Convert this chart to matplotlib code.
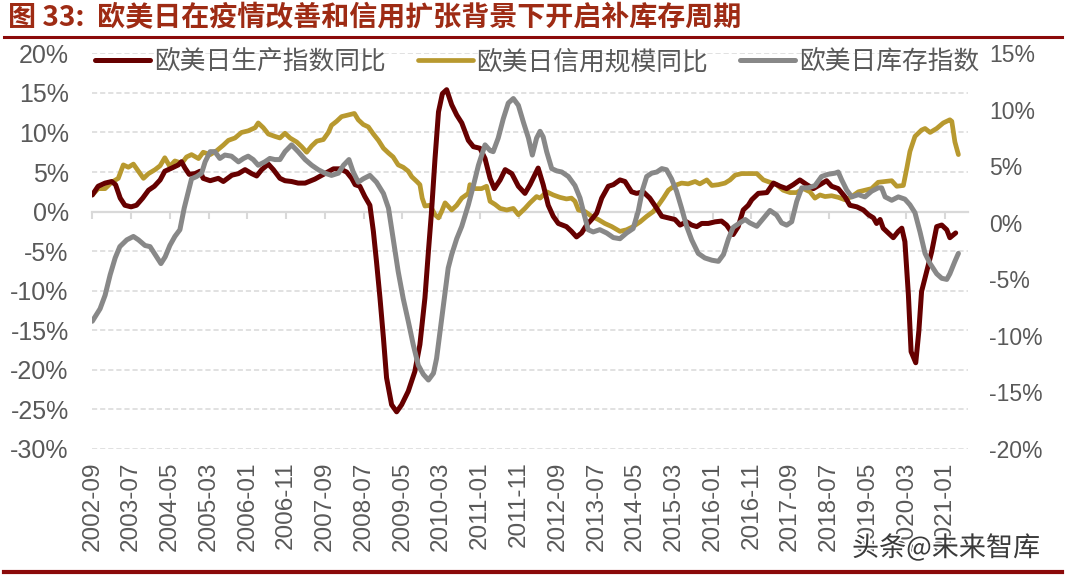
import matplotlib
matplotlib.use("Agg")
import matplotlib.pyplot as plt
from matplotlib.lines import Line2D
import matplotlib.patheffects as pe

# ---------------- data (x = months since 2002-09) ----------------
prod_m = [0, 1.5, 3.3, 5, 6, 7.2, 8.4, 10, 11.4, 13, 14.5, 16, 17.5, 18.7, 20.5, 22.2, 23, 23.9, 25, 26.5,
          27.8, 28.6, 30.4, 32.5, 33.8, 36, 37.7, 39.4, 41.1, 42.4, 43.7, 45.4, 46.7, 48.4, 49.7, 51.4, 53.1,
          54.9, 57.4, 60, 62.2, 63.9, 65.6, 66.9, 67.8, 69, 70.3, 71.6, 72.5, 73.3, 74.2, 75.1, 75.9, 77.2,
          78.5, 79.8, 81.5, 83.2, 84.5, 85.8, 86.7, 87.5, 88.4, 89.3, 90.3, 91.4, 92.7, 94, 95.3, 97, 98.3,
          100, 101.3, 102.6, 103.7, 105.2, 106.5, 108.2, 109.9, 111.6, 112.9, 115, 116.3, 117.6, 118.9, 120.2,
          122.3, 123.6, 124.9, 126.2, 127.5, 128.8, 130.1, 131.4, 133.1, 134.4, 136.1, 137.4, 139.1, 140.4,
          142.1, 143.8, 145.6, 146.9, 148.6, 150.3, 151.6, 153.3, 154.6, 155.9, 157.2, 158.9, 160.6, 162.3,
          163.6, 165.3, 166.6, 167.9, 169.2, 170.1, 171.8, 174, 175.7, 177.4, 179.1, 180.8, 182.5, 184.3, 186,
          187.7, 189.4, 190.7, 192.4, 194.1, 195.4, 197.2, 198.9, 200.2, 201.5, 202.3, 203.2, 204, 205.3,
          206.6, 207.9, 208.8, 209.6, 210.5, 211.2, 212.4, 213.2, 213.9, 215.2, 216.5, 217.8, 219.1, 220.4,
          221.2, 222.7]
prod_v = [2.1, 3.2, 3.6, 3.8, 3.4, 1.7, 0.8, 0.6, 0.8, 1.7, 2.7, 3.2, 4.0, 5.1, 5.5, 5.9, 6.3, 5.5, 4.7, 4.8,
          5.1, 4.2, 3.9, 4.2, 3.8, 4.6, 4.8, 5.3, 4.8, 4.5, 5.3, 6.0, 5.3, 4.2, 3.9, 3.8, 3.6,
          3.6, 4.1, 4.8, 5.4, 5.4, 5.0, 4.2, 3.4, 3.2, 1.9, 0.8, -2.5, -6.3, -10.9, -16.0, -21.0, -24.4,
          -25.3, -24.4, -22.7, -20.2, -16.8, -10.9, -5.0, 0.0, 6.7, 12.6, 14.9, 15.4, 13.5, 12.2, 11.2, 9.0, 8.2,
          8.0, 6.7, 4.2, 2.9, 4.0, 5.3, 4.8, 3.2, 2.3, 3.4, 5.5, 3.4, 0.8, -0.6, -1.5,
          -1.9, -2.5, -3.2, -2.7, -1.7, -1.0, -0.2, 1.7, 3.2, 3.4, 4.0, 3.8, 2.5, 2.3,
          2.5, 1.7, 0.4, -0.6, -0.8, -1.0, -1.7, -1.3, -1.7, -1.9, -1.5, -1.5, -1.3, -1.2,
          -1.7, -2.9, -1.9, 0.2, 0.8, 1.5, 2.3, 2.4, 3.6, 3.2, 2.9, 3.4, 4.0, 3.4, 2.9,
          3.4, 3.9, 3.2, 2.9, 1.9, 0.8, 0.6, 0.2, -0.4, -0.8, -1.5, -1.0, -2.1, -2.7,
          -3.3, -2.5, -2.1, -3.8, -10.5, -17.7, -19.1, -15.1, -10.1, -7.6, -5.1, -1.9, -1.7, -2.3,
          -3.3, -2.7]

credit_m = [0, 1.5, 3.3, 5, 6.7, 8, 9.3, 10.6, 11.9, 13.2, 14.5, 16.2, 17.5, 18.7, 20, 21.3, 23.1, 24.3, 25.6,
            27.4, 28.6, 30.4, 32.1, 33.8, 35.1, 36.8, 38.5, 40.2, 42, 42.8, 44.1, 45.4, 47.1, 48.4, 49.7, 51,
            52.7, 54, 55.3, 56.6, 57.9, 59.6, 60.9, 61.7, 63, 64.3, 66, 67.6, 68.6, 69.9, 71.2, 72.5, 73.8,
            75.1, 76.4, 77.6, 78.9, 80.2, 81.5, 82.4, 83.7, 84.5, 85.1, 85.8, 87.1, 88.4, 89.3, 90.1, 91, 92.7,
            94, 95.3, 97, 97.4, 98.7, 100.4, 101.7, 102.6, 103.9, 105.2, 106.9, 108.6, 109.9, 111.6, 112.9,
            114.6, 115.5, 117.2, 118.9, 120.6, 122.3, 123.6, 124.5, 125.4, 127.1, 128.8, 130.5, 132.2, 134,
            136.1, 137.8, 139.5, 141.3, 143, 144.7, 146, 147.3, 148.6, 150.3, 152, 153.7, 155.5, 156.7, 158.5,
            159.8, 161.5, 163.2, 164.5, 165.8, 167.5, 169.2, 171.4, 173.1, 174.8, 176.5, 178.2, 180, 181.7,
            183.4, 185.1, 186.4, 187.7, 189, 190.7, 192.4, 194.1, 195.9, 197.6, 199.3, 201, 202.7, 204.5,
            206.2, 207.5, 209.2, 210.1, 210.9, 212.2, 213.9, 214.8, 216.1, 217.8, 219.5, 221.2, 221.7, 222.5,
            223.4]
credit_v = [2.1, 2.9, 2.9, 3.7, 4.2, 5.9, 5.6, 6.0, 5.1, 4.2, 4.8, 5.3, 5.8, 6.8, 5.7, 6.4, 6.1, 6.9, 7.2,
            6.7, 7.5, 7.2, 7.7, 8.4, 9.0, 9.3, 10.0, 10.2, 10.6, 11.2, 10.6, 9.8, 9.5, 9.3, 9.9, 9.3,
            8.8, 8.2, 7.5, 8.3, 8.9, 9.1, 10.0, 10.9, 11.4, 12.0, 12.2, 12.4, 11.6, 11.0, 10.7, 9.8, 9.0,
            8.0, 7.4, 6.9, 5.9, 5.6, 5.1, 4.4, 3.8, 3.4, 1.7, 0.7, 0.8, -0.4, -0.8, 0.0, 1.1, 0.2,
            0.8, 1.7, 2.3, 3.4, 2.9, 2.9, 3.2, 1.3, 0.9, 0.4, 0.2, 0.4, -0.4, 0.4, 1.1,
            1.9, 1.7, 2.5, 2.1, 1.8, 1.6, 1.7, 1.3, 0.2, 0.0, -0.6, -1.0, -1.5, -1.9,
            -2.5, -2.3, -1.9, -1.3, -0.6, 0.0, 0.8, 1.7, 2.7, 3.3, 3.6, 3.5, 3.8, 3.5, 4.0,
            3.3, 3.4, 3.6, 4.0, 4.6, 4.8, 4.8, 4.8, 4.0, 3.7, 3.4, 2.7, 2.4, 2.4,
            2.9, 2.5, 1.7, 2.1, 1.9, 2.0, 1.8, 1.5, 1.9, 2.5, 2.7, 2.9, 3.7, 3.8,
            3.9, 3.2, 3.3, 5.5, 7.6, 9.5, 10.3, 10.5, 10.0, 10.5, 11.2, 11.6, 11.4, 8.8,
            7.2]

inv_m = [0, 2, 3.3, 4.6, 5.9, 7.1, 8.9, 10.6, 11.9, 13.6, 14.9, 16.2, 17.7, 18.8, 20, 21.3, 22.6, 23.7, 24.8,
         25.6, 26.9, 28.2, 29.1, 30.4, 31.6, 32.9, 34.2, 35.9, 37.7, 39, 40.2, 41.5, 42.8, 44.5, 45.8, 47.1,
         48.4, 49.7, 51.4, 53.1, 54.9, 56.6, 58.3, 60, 61.7, 63.5, 64.8, 66.2, 67.3, 68.6, 69.9, 71.6, 73.3,
         75.1, 76.4, 77.6, 78.9, 80.2, 81.5, 82.8, 84.1, 85.4, 86.7, 88, 88.8, 89.7, 91, 91.8, 92.7, 94,
         95.3, 97, 98.3, 99.6, 101.3, 102.6, 103.4, 104.7, 106, 107.3, 108.6, 109.9, 111.2, 112.5, 113.5,
         114.6, 115.5, 116.3, 117.2, 118.5, 119.8, 121.1, 122.8, 124.5, 125.8, 126.9, 127.9, 129.2, 130.9,
         132.7, 134.4, 136.1, 137.8, 139.5, 140.8, 141.9, 143, 144.3, 145.6, 146.9, 148.1, 149.4, 150.7,
         152, 153.3, 154.6, 156.3, 158, 159.8, 161.5, 162.8, 164.1, 165.3, 167, 168.4, 169.6, 171.4, 173.1,
         174.8, 176.5, 177.8, 179.1, 180.4, 181.7, 183, 184.7, 186.4, 188.1, 189.8, 191.6, 192.4, 193.3,
         194.6, 195.9, 197.6, 199.3, 201, 202.7, 203.6, 204.5, 206.2, 207.9, 209.6, 210.9, 212.2, 213.5,
         214.8, 216.1, 217.8, 219.1, 220.4, 221.2, 222.5, 223.4]
inv_v = [-8.7, -7.6, -6.4, -4.6, -3.1, -2.1, -1.5, -1.2, -1.5, -2.0, -2.1, -2.8, -3.6, -3.0, -2.0, -1.2, -0.6,
         1.3, 2.8, 3.9, 4.1, 4.4, 5.4, 6.3, 6.3, 5.7, 6.0, 5.9, 5.4, 5.7, 5.9, 5.6, 5.1, 5.4, 5.7, 5.6,
         5.6, 6.3, 6.9, 6.3, 5.6, 5.1, 4.7, 4.4, 4.2, 4.4, 5.1, 5.6, 4.5, 3.6, 3.9, 4.2, 3.6,
         2.6, 1.3, -1.4, -4.3, -6.7, -8.7, -10.8, -12.6, -13.4, -13.9, -13.3, -12.0, -9.6, -6.1, -4.0, -2.8,
         -1.4, -0.3, 1.6, 3.3, 5.1, 6.9, 6.4, 6.3, 7.5, 9.2, 10.6, 11.0, 10.4, 8.9, 7.5, 6.0,
         7.5, 8.1, 7.6, 6.3, 4.8, 4.6, 4.5, 4.1, 3.3, 2.2, 0.7, -0.6, -0.8, -0.6,
         -0.9, -1.3, -1.4, -0.9, -0.5, 1.0, 2.9, 4.1, 4.4, 4.5, 4.8, 4.7, 3.9, 2.8,
         1.3, -0.3, -1.5, -2.7, -3.1, -3.3, -3.4, -2.8, -1.4, -0.4, 0.0, 0.3, 0.0, -0.3, 0.4,
         1.1, 0.7, 0.0, -0.2, 0.1, 1.9, 3.1, 3.1, 3.3, 4.1, 4.3, 4.4, 4.5, 3.8,
         2.9, 2.3, 2.5, 2.3, 2.8, 3.1, 3.1, 2.3, 2.0, 2.3, 2.1, 1.6, 0.9, -0.8,
         -2.7, -3.6, -4.5, -4.9, -5.0, -4.5, -3.4, -2.7]

tick_pos = list(range(0, 221, 10))
tick_labels = ["2002-09", "2003-07", "2004-05", "2005-03", "2006-01", "2006-11", "2007-09", "2008-07",
               "2009-05", "2010-03", "2011-01", "2011-11", "2012-09", "2013-07", "2014-05", "2015-03",
               "2016-01", "2016-11", "2017-09", "2018-07", "2019-05", "2020-03", "2021-01"]
left_ticks = [20, 15, 10, 5, 0, -5, -10, -15, -20, -25, -30]
right_ticks = [15, 10, 5, 0, -5, -10, -15, -20]

series_names = ["欧美日生产指数同比", "欧美日信用规模同比", "欧美日库存指数"]
title = "图 33:  欧美日在疫情改善和信用扩张背景下开启补库存周期"
watermark = "头条@未来智库"

# ---------------- styling ----------------
C_PROD = "#660000"
C_CREDIT = "#B8992F"
C_INV = "#888888"
C_GRID = "#D9D9D9"
C_TEXT = "#595959"
C_RED = "#8B0A0A"
CJK = ["Noto Sans CJK SC", "DejaVu Sans"]
LAT = ["Liberation Sans", "DejaVu Sans"]

W, H = 1067, 578
fig = plt.figure(figsize=(W / 100, H / 100), dpi=100)
x0, x1, ytop, ybot = 92.3, 967.7, 53.3, 449.0
ax = fig.add_axes([x0 / W, 1 - ybot / H, (x1 - x0) / W, (ybot - ytop) / H])
ax2 = ax.twinx()

ax.set_xlim(0, 225.8)
ax.set_ylim(-30, 20)
ax2.set_ylim(-20, 15)

for a in (ax, ax2):
    for s in a.spines.values():
        s.set_visible(False)
    a.patch.set_visible(False)

# gridlines (dashed) except zero line
for v in left_ticks:
    if v != 0:
        ax.axhline(v, color=C_GRID, lw=1.1, ls=(0, (3.4, 1.9)), zorder=0)

l1, = ax.plot(prod_m, prod_v, color=C_PROD, lw=3.6, solid_joinstyle="round", solid_capstyle="round", zorder=3)
l2, = ax.plot(credit_m, credit_v, color=C_CREDIT, lw=3.4, solid_joinstyle="round", solid_capstyle="round", zorder=2)
l3, = ax2.plot(inv_m, inv_v, color=C_INV, lw=3.6, solid_joinstyle="round", solid_capstyle="round", zorder=3)

# x axis line at 0 with tick marks
sec = ax.secondary_xaxis(0.6)
sec.set_alignment("bottom")
sec.set_xticks(tick_pos)
sec.tick_params(axis="x", direction="out", length=5, width=1.5, color=C_GRID, labelbottom=False, labeltop=False)
for s in sec.spines.values():
    s.set_visible(False)
sec.spines["bottom"].set_visible(True)
sec.spines["bottom"].set_color(C_GRID)
sec.spines["bottom"].set_linewidth(1.6)

ax.set_xticks(tick_pos)
ax.set_xticklabels(tick_labels, rotation=90, fontsize=17.5, color=C_TEXT, family=LAT)
ax.tick_params(axis="x", length=0, pad=9)
ax.set_yticks(left_ticks)
ax.set_yticklabels([f"{v}%" for v in left_ticks], fontsize=18, color=C_TEXT, family=LAT)
ax.tick_params(axis="y", length=0, pad=17)
ax2.set_yticks(right_ticks)
ax2.set_yticklabels([f"{v}%" for v in right_ticks], fontsize=16.5, color=C_TEXT, family=LAT)
ax2.tick_params(axis="y", length=0, pad=15.5)

leg = ax2.legend([l1, l2, l3], series_names, loc="center left",
                 bbox_to_anchor=(95 / W, 1 - 62 / H), bbox_transform=fig.transFigure,
                 ncol=3, frameon=False, prop={"family": CJK, "size": 18.5},
                 handlelength=2.14, handletextpad=0.15, columnspacing=1.25,
                 borderpad=0, borderaxespad=0, labelcolor=C_TEXT)

# title and rules
fig.text(8 / W, 1 - 18 / H, title, fontsize=20.2, fontweight="bold", color="#9E2B14",
         family=CJK, va="center", ha="left")
fig.add_artist(Line2D([4 / W, 1062 / W], [1 - 37 / H] * 2, transform=fig.transFigure, color=C_RED, lw=2.2))
fig.add_artist(Line2D([4 / W, 1062 / W], [1 - 572 / H] * 2, transform=fig.transFigure, color=C_RED, lw=3))

fig.text(852 / W, 1 - 548 / H, watermark, fontsize=19.5, color="#3A3A3A", family=CJK, va="center", ha="left",
         path_effects=[pe.withStroke(linewidth=2.5, foreground="white")], zorder=10)

fig.savefig("out.png", dpi=100)
